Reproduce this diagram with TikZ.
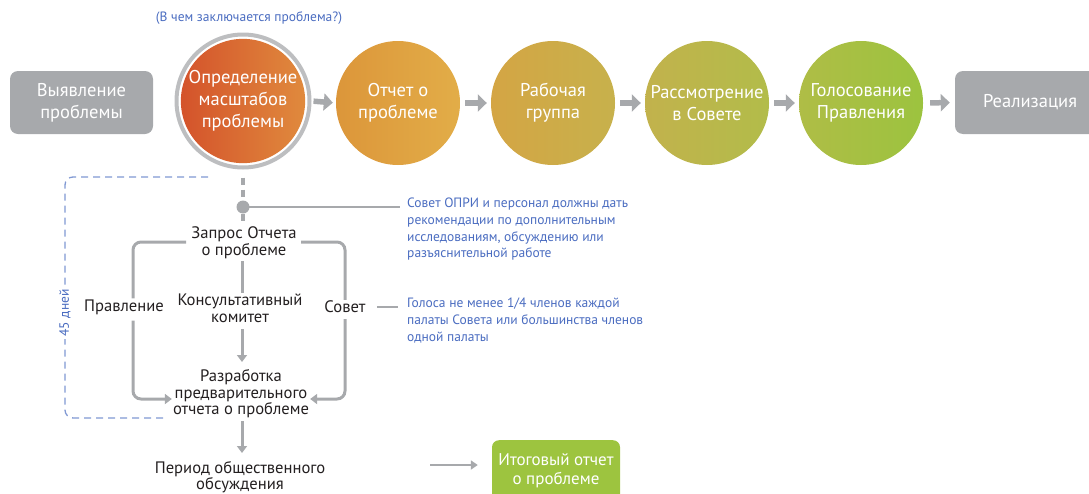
\documentclass[tikz,border=0pt]{standalone}
\usepackage{fontspec}
\setmainfont{PT Sans}
\usetikzlibrary{arrows.meta}
\definecolor{boxgray}{HTML}{A7A9AC}
\definecolor{ringgray}{HTML}{BDBEC0}
\definecolor{linegray}{HTML}{A7A9AC}
\definecolor{txtblue}{HTML}{4A6CC0}
\definecolor{txtdark}{HTML}{231F20}
\definecolor{cAl}{HTML}{D4532B}\definecolor{cAr}{HTML}{E08A3D}
\definecolor{cBl}{HTML}{DC963A}\definecolor{cBr}{HTML}{E2AD48}
\definecolor{cCl}{HTML}{D4A544}\definecolor{cCr}{HTML}{C7B14C}
\definecolor{cDl}{HTML}{C2B24C}\definecolor{cDr}{HTML}{B2BC4A}
\definecolor{cEl}{HTML}{AFBD46}\definecolor{cEr}{HTML}{9CC33F}
\definecolor{boxgreen}{HTML}{9DC43F}
\tikzset{
  stage/.style={circle, minimum size=124, inner sep=0, align=center, text=white,
    font=\fontsize{18.5}{22}\selectfont, shading=axis, shading angle=90},
  graybox/.style={rectangle, rounded corners=8, fill=boxgray, text=white, align=center,
    minimum width=143, minimum height=63, font=\fontsize{18.5}{22}\selectfont},
  bigarrow/.style={draw=linegray, line width=5.5, -{Triangle[length=9,width=17]}},
  lbl/.style={text=txtdark, align=center, inner sep=1, font=\fontsize{16.6}{16.6}\selectfont},
  note/.style={text=txtblue, align=left, inner sep=0, anchor=north west, font=\fontsize{13.5}{16.7}\selectfont},
  brk/.style={draw=linegray, line width=3, rounded corners=8},
  brkarrow/.style={draw=linegray, line width=3, rounded corners=8, -{Triangle[length=7,width=10]}},
  thin/.style={draw=linegray, line width=1.3},
}
\begin{document}
\begin{tikzpicture}[x=1pt,y=-1pt]
\useasboundingbox (0,0) rectangle (1089,493);
\clip (0,0) rectangle (1089,493);
% top row
\node[graybox] (b1) at (81.5,102.5) {Выявление\\проблемы};
\node[stage, left color=cAl, right color=cAr] (c1) at (243,101) {Определение\\масштабов\\проблемы};
\node[circle, draw=ringgray, line width=4, minimum size=133, inner sep=0] (r1) at (c1) {};
\node[stage, left color=cBl, right color=cBr] (c2) at (398,103) {Отчет о\\проблеме};
\node[stage, left color=cCl, right color=cCr] (c3) at (553,103) {Рабочая\\группа};
\node[stage, left color=cDl, right color=cDr] (c4) at (707,103) {Рассмотрение\\в Совете};
\node[stage, left color=cEl, right color=cEr] (c5) at (861,103) {Голосование\\Правления};
\node[graybox, minimum width=150] (b2) at (1030,102.5) {Реализация};
\node[text=txtblue, inner sep=0, font=\fontsize{13.5}{15}\selectfont] (q) at (249,18) {(В чем заключается проблема?)};
\draw[bigarrow, shorten <=2, shorten >=3] (r1.east) -- (c2.west);
\draw[bigarrow, shorten <=5, shorten >=4] (c2.east) -- (c3.west);
\draw[bigarrow, shorten <=5, shorten >=4] (c3.east) -- (c4.west);
\draw[bigarrow, shorten <=5, shorten >=4] (c4.east) -- (c5.west);
\draw[bigarrow, shorten <=7, shorten >=5] (c5.east) -- (b2.west);
% dotted stem and dot
\coordinate (dot) at (243,207);
\draw[draw=linegray, line width=4, dash pattern=on 7 off 5] (r1.south) ++(0,8) -- (dot) -- ++(0,17);
\fill[linegray] (dot) circle (6.5);
\coordinate (n1end) at (400,207);
\draw[thin] (dot) -- (n1end);
\node[note] (n1) at (407,198) {Совет ОПРИ и персонал должны дать\\рекомендации по дополнительным\\исследованиям, обсуждению или\\разъяснительной работе};
% lower structure
\node[lbl] (req) at (244,243) {Запрос Отчета\\о проблеме};
\node[lbl] (brd) at (124,307) {Правление};
\node[lbl] (adv) at (240,308) {Консультативный\\комитет};
\node[lbl] (sov) at (345,307) {Совет};
\node[lbl] (dev) at (241,394) {Разработка\\предварительного\\отчета о проблеме};
\node[lbl] (pub) at (240,477) {Период общественного\\обсуждения};
\coordinate (lt) at (133,242);
\coordinate (rt) at (345,242);
\draw[brk] (186,242) -- (lt) -- (brd.north -| lt);
\draw[brk] (301,242) -- (rt) -- (sov.north);
\draw[brk] (req.south -| 242,0) ++(0,1) -- (adv.north -| 242,0);
\draw[brkarrow] (brd.south -| lt) ++(0,5) |- (dev.west |- 0,399);
\draw[brkarrow] (sov.south) ++(0,5) |- (dev.east |- 0,399);
\draw[brkarrow] (adv.south -| 242,0) ++(0,6) -- (242,362);
\draw[brkarrow] (dev.south -| 242,0) ++(0,2) -- (242,453);
\draw[thin] (sov.east) ++(10,0) -- (398,307);
\node[note] (n2) at (407,298) {Голоса не менее 1/4 членов каждой\\палаты Совета или большинства членов\\одной палаты};
% 45 days dashed
\draw[draw=txtblue!70, line width=1.3, dash pattern=on 7 off 5, rounded corners=8] (208,177) -- (65,177) -- (65,418) -- (168,418);
\node[fill=white, text=txtblue, rotate=90, inner sep=2, font=\fontsize{13.5}{15}\selectfont] (d45) at (65,313) {45 дней};
% final
\node[rectangle, rounded corners=7, fill=boxgreen, text=white, align=center, minimum width=128, minimum height=75, anchor=north, inner sep=0, font=\fontsize{17}{19}\selectfont, text depth=18] (fin) at (556,440) {Итоговый отчет\\о проблеме};
\draw[draw=linegray, line width=2.5, -{Triangle[length=7,width=9]}] (430,465) -- ([xshift=-14]fin.west |- 0,465);
\end{tikzpicture}
\end{document}
